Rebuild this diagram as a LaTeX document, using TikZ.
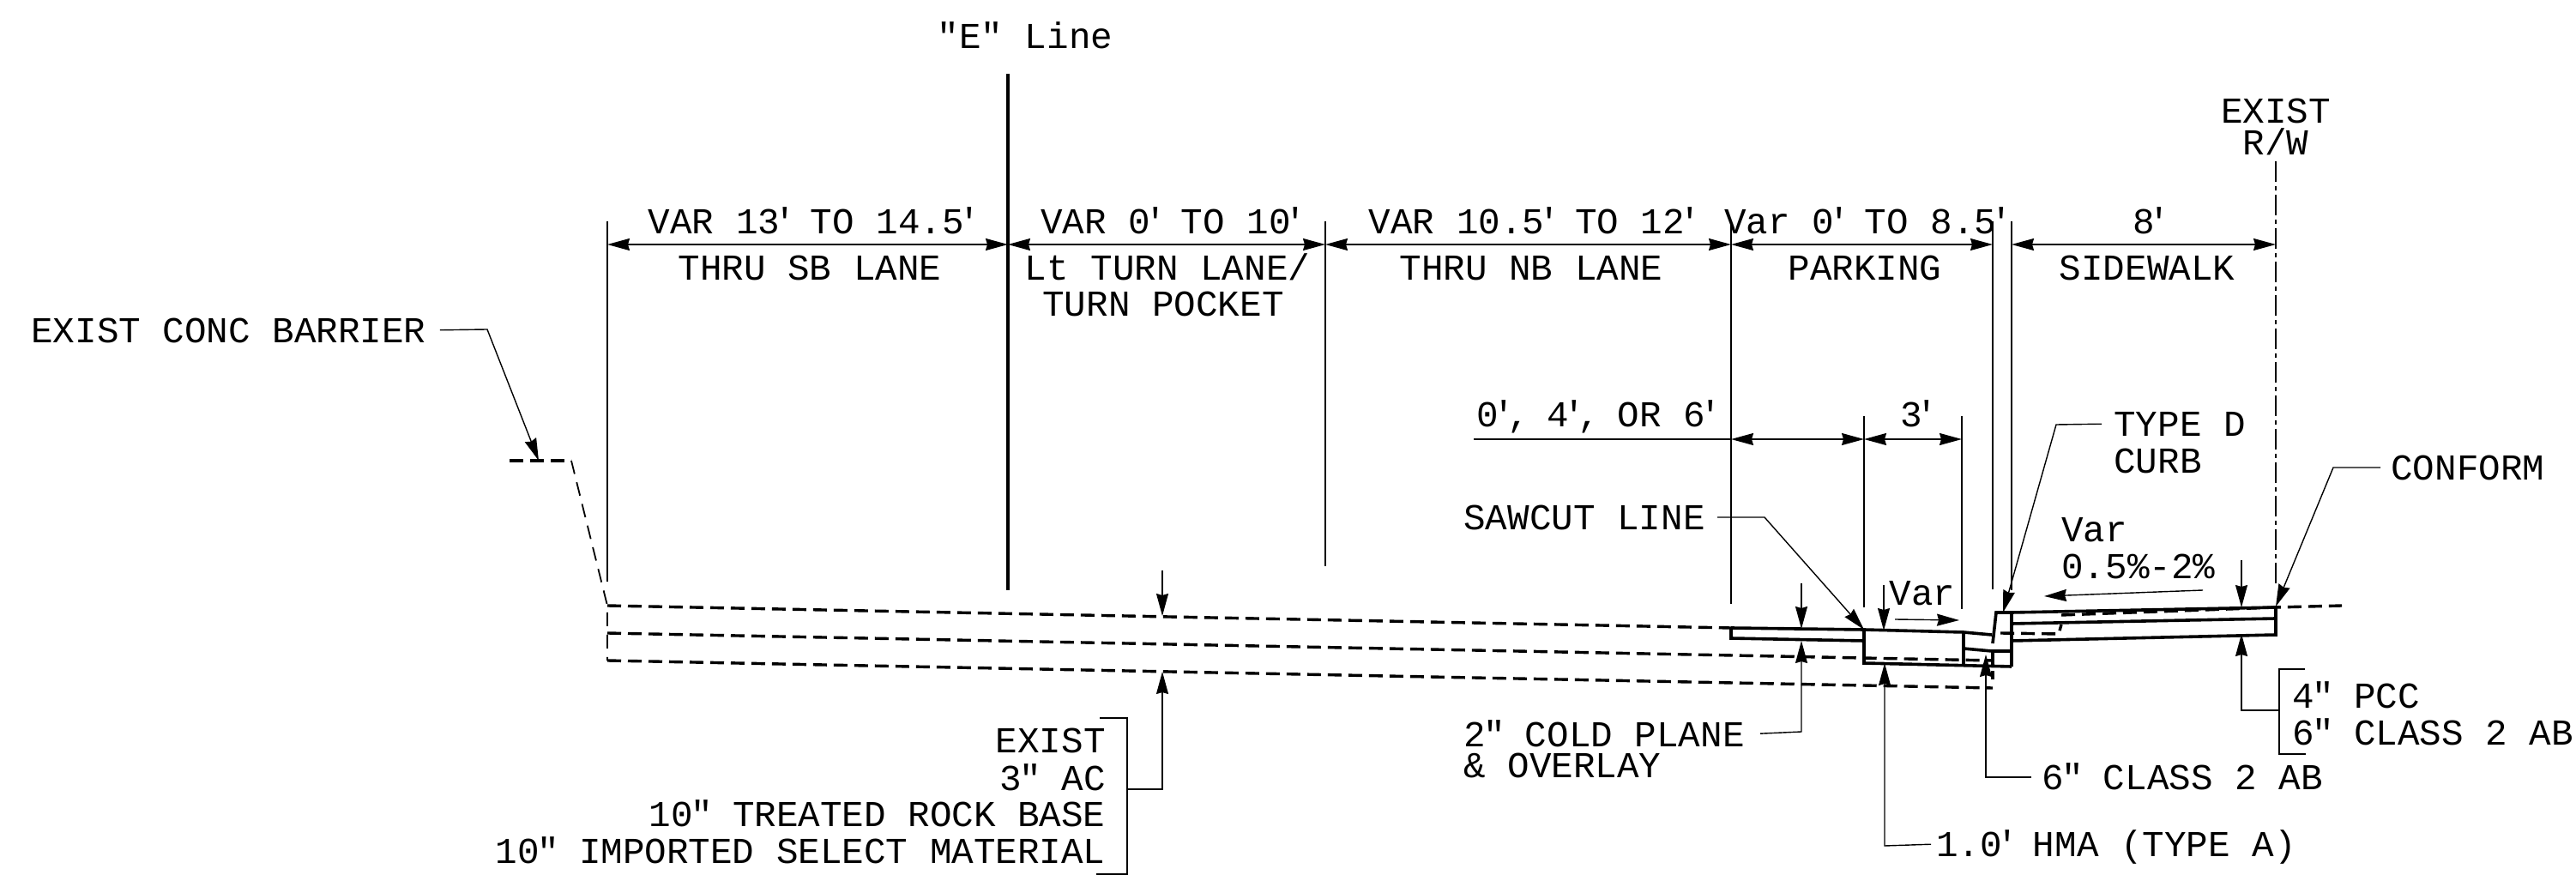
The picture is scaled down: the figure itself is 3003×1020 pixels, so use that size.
\documentclass[tikz,border=0pt]{standalone}
\usepackage{fontspec}
\newfontfamily\cadfont{Liberation Mono}
\usetikzlibrary{arrows.meta}
\newcommand{\ft}{\kern-.16em′\kern-.2em}
\newcommand{\inch}{\kern-.06em"\kern-.06em}
\newcommand{\cm}{,\kern-.12em}

\begin{document}
\begin{tikzpicture}[x=.5pt,y=-.5pt,
lbl/.style={inner sep=0pt,font=\cadfont\fontsize{21.3pt}{26pt}\selectfont,text height=14.3pt,text depth=0pt},
ext/.style={line width=.7pt},
dim/.style={line width=.8pt,{Stealth[length=13pt,width=7pt,inset=1pt]}-{Stealth[length=13pt,width=7pt,inset=1pt]}},
lead/.style={line width=.7pt,-{Stealth[length=13pt,width=7pt,inset=1pt]}},
sect/.style={line width=1.8pt,line join=miter},
exist/.style={line width=1.7pt,dash pattern=on 8pt off 4pt},
slope/.style={line width=.9pt,dash pattern=on 8pt off 5pt}]
\useasboundingbox (0,0) rectangle (3003,1020);

\node (eline) [lbl] at (1195,42) {"E" Line};
\node (rwa) [lbl] at (2653,129) {EXIST};
\node (rwb) [lbl] at (2653,166) {R/W};

\node (sbvar) [lbl] at (945,258) {VAR 13\ft{} TO 14.5\ft};
\node (sbname) [lbl] at (944,312) {THRU SB LANE};
\node (ltvar) [lbl] at (1364,258) {VAR 0\ft{} TO 10\ft};
\node (ltname) [lbl] at (1361,312) {Lt TURN LANE/};
\node (ltnameb) [lbl] at (1356,354) {TURN POCKET};
\node (nbvar) [lbl] at (1785,258) {VAR 10.5\ft{} TO 12\ft};
\node (nbname) [lbl] at (1785,312) {THRU NB LANE};
\node (pkvar) [lbl] at (2174,258) {Var 0\ft{} TO 8.5\ft};
\node (pkname) [lbl] at (2174,312) {PARKING};
\node (swvar) [lbl] at (2504,258) {8\ft};
\node (swname) [lbl] at (2503,312) {SIDEWALK};

\node (barlbl) [lbl,anchor=west] at (36,385) {EXIST CONC BARRIER};
\node (optlbl) [lbl] at (1860,483) {0\ft\cm{} 4\ft\cm{} OR 6\ft};
\node (tlbl) [lbl] at (2233,483) {3\ft};
\node (curba) [lbl,anchor=west] at (2464,494) {TYPE D};
\node (curbb) [lbl,anchor=west] at (2464,537) {CURB};
\node (conf) [lbl,anchor=west] at (2787,545) {CONFORM};
\node (saw) [lbl,anchor=west] at (1706,603) {SAWCUT LINE};
\node (varc) [lbl] at (2241,691) {Var};
\node (vara) [lbl,anchor=west] at (2403,617) {Var};
\node (varb) [lbl,anchor=west] at (2403,660) {0.5\%-2\%};

\node (exa) [lbl,anchor=east] at (1289,863) {EXIST};
\node (exb) [lbl,anchor=east] at (1289,907) {3\inch{} AC};
\node (exc) [lbl,anchor=east] at (1289,949) {10\inch{} TREATED ROCK BASE};
\node (exd) [lbl,anchor=east] at (1289,992) {10\inch{} IMPORTED SELECT MATERIAL};
\node (cola) [lbl,anchor=west] at (1706,856) {2\inch{} COLD PLANE};
\node (colb) [lbl,anchor=west] at (1706,892) {\& OVERLAY};
\node (clsa) [lbl,anchor=west] at (2380,906) {6\inch{} CLASS 2 AB};
\node (hma) [lbl,anchor=west] at (2257,984) {1.0\ft{} HMA (TYPE A)};
\node (pcc) [lbl,anchor=west] at (2672,811) {4\inch{} PCC};
\node (clsb) [lbl,anchor=west] at (2672,854) {6\inch{} CLASS 2 AB};

\coordinate (da) at (708,285);
\coordinate (db) at (1175,285);
\coordinate (dc) at (1545,285);
\coordinate (dd) at (2018,285);
\coordinate (de) at (2323,285);
\coordinate (df) at (2345,285);
\coordinate (dg) at (2653,285);
\coordinate (ea) at (1718,512);
\coordinate (eb) at (2018,512);
\coordinate (ec) at (2173,512);
\coordinate (ed) at (2287,512);

\draw [ext] (708,258) -- (708,678);
\draw [line width=2pt] (1175,86) -- (1175,688);
\draw [ext] (1545,258) -- (1545,660);
\draw [ext] (2018,258) -- (2018,704);
\draw [ext] (2323,258) -- (2323,687);
\draw [ext] (2345,258) -- (2345,688);
\draw [ext] (2173,485) -- (2173,708);
\draw [ext] (2287,485) -- (2287,710);
\draw [line width=1.2pt,dash pattern=on 12pt off 2.5pt on 2.5pt off 2.5pt] (2653,188) -- (2653,680);

\draw [dim] (da) -- (db);
\draw [dim] (db) -- (dc);
\draw [dim] (dc) -- (dd);
\draw [dim] (dd) -- (de);
\draw [dim] (df) -- (dg);
\draw [ext] (ea) -- (eb);
\draw [dim] (eb) -- (ec);
\draw [dim] (ec) -- (ed);

\draw [exist] (594,537) -- (666,537);
\draw [slope] (666,537) -- (708,706) -- (708,770);
\draw [exist] (708,706) -- (2018,732);
\draw [exist] (708,738) -- (2323,770);
\draw [exist] (708,770) -- (2323,802);
\draw [exist] (2323,782) -- (2323,792);
\draw [exist] (2332,738) -- (2400,739) -- (2403,728);
\draw [exist] (2403,717) -- (2653,708) -- (2730,706);

\draw [sect] (2018,732) -- (2173,734) -- (2173,773) -- (2345,777);
\draw [sect] (2018,732) -- (2018,744) -- (2173,747);
\draw [sect] (2173,734) -- (2289,737) -- (2322,740);
\draw [sect] (2289,737) -- (2289,775);
\draw [sect] (2289,756) -- (2322,759) -- (2345,759);
\draw [sect] (2323,759) -- (2323,777);
\draw [sect] (2323,750) -- (2327,714) -- (2345,714) -- (2345,777);
\draw [sect] (2345,714) -- (2653,708) -- (2653,740) -- (2345,747);
\draw [sect] (2345,727) -- (2653,721);

\coordinate (barelb) at (568,384);
\coordinate (bartip) at (628,537);
\draw [lead,shorten <=8pt] (barlbl.east) -- (barelb) -- (bartip);
\coordinate (cbelb) at (2397,495);
\coordinate (cbtip) at (2335,714);
\draw [lead,shorten <=7pt] (curba.west) -- (cbelb) -- (cbtip);
\coordinate (cfelb) at (2720,545);
\coordinate (cftip) at (2653,707);
\draw [lead,shorten <=6pt] (conf.west) -- (cfelb) -- (cftip);
\coordinate (swelb) at (2057,603);
\coordinate (swtip) at (2173,734);
\draw [lead,shorten <=7pt] (saw.east) -- (swelb) -- (swtip);
\coordinate (colelb) at (2100,853);
\coordinate (coltip) at (2100,747);
\draw [lead,shorten <=9pt] (cola.east) -- (colelb) -- (coltip);
\coordinate (colsrc) at (2100,680);
\coordinate (coltop) at (2100,733);
\draw [lead] (colsrc) -- (coltop);
\coordinate (hmaelb) at (2197,986);
\coordinate (hmatip) at (2197,773);
\draw [lead,shorten <=3pt] (hma.west) -- (hmaelb) -- (hmatip);
\coordinate (hmasrc) at (2196,682);
\coordinate (hmatop) at (2196,735);
\draw [lead] (hmasrc) -- (hmatop);
\coordinate (clselb) at (2315,906);
\coordinate (clstip) at (2315,763);
\draw [lead,shorten <=6pt] (clsa.west) -- (clselb) -- (clstip);
\coordinate (pvelb) at (2613,828);
\coordinate (pvtip) at (2613,739);
\coordinate (pvjoin) at (2657,828);
\draw [lead] (pvjoin) -- (pvelb) -- (pvtip);
\coordinate (pvsrc) at (2613,653);
\coordinate (pvtop) at (2613,708);
\draw [lead] (pvsrc) -- (pvtop);
\coordinate (exelb) at (1355,920);
\coordinate (extip) at (1355,783);
\coordinate (exjoin) at (1314,920);
\draw [lead] (exjoin) -- (exelb) -- (extip);
\coordinate (exsrc) at (1355,665);
\coordinate (extop) at (1355,718);
\draw [lead] (exsrc) -- (extop);

\coordinate (vcs) at (2209,722);
\coordinate (vce) at (2284,723);
\draw [lead] (vcs) -- (vce);
\coordinate (vas) at (2568,688);
\coordinate (vae) at (2383,695);
\draw [lead] (vas) -- (vae);

\draw [ext] (1282,837) -- (1314,837) -- (1314,1019) -- (1278,1019);
\draw [ext] (2687,780) -- (2657,780) -- (2657,879) -- (2688,879);
\end{tikzpicture}
\end{document}
